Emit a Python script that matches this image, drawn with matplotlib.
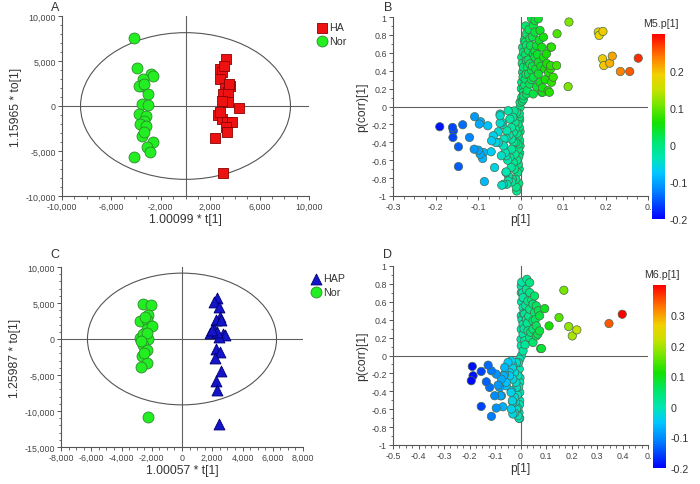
import numpy as np
import matplotlib
matplotlib.use("Agg")
import matplotlib as mpl
import matplotlib.pyplot as plt
from matplotlib.patches import Ellipse
from matplotlib.colors import LinearSegmentedColormap, Normalize
from matplotlib.ticker import MultipleLocator, FixedLocator, FuncFormatter

plt.rcParams['font.family'] = ['Liberation Sans', 'DejaVu Sans']
plt.rcParams['axes.unicode_minus'] = False

# ---------------- data ----------------
# panel A: OPLS-DA scores, t[1] vs to[1]
a_nor = [(-4131, 7547), (-3943, 4201), (-2785, 3570), (-2597, 3310), (-3404, 3012),
         (-3539, 2194), (-3727, 2194), (-3400, 2460), (-3000, 1340), (-3540, 225),
         (-3000, 110), (-3727, -890), (-3190, -1077), (-3350, -1634), (-3673, -2006),
         (-3190, -2192), (-3540, -3307), (-3350, -2935), (-2650, -3976), (-3135, -4608),
         (-2866, -5165), (-4131, -5649)]
a_ha = [(3245, 5168), (2787, 4127), (2922, 3755), (2787, 3012), (3594, 2268),
        (3191, 1971), (3003, 1340), (3460, 1525), (3406, 410), (4322, -260),
        (2652, -1003), (2922, -1450), (3325, -1820), (3728, -1746), (3245, -2378),
        (3325, -2935), (2383, -3604), (3056, -7396), (3100, 4400), (2950, 600),
        (2800, -700), (3500, 2400)]
a_ellipse = (8500, 8150)
a_xticks = [-10000, -6000, -2000, 2000, 6000, 10000]

# panel C
c_nor = [(-2607, 4907), (-2057, 4768), (-2277, 3287), (-2784, 2453), (-2344, 2592),
         (-2344, 1435), (-2013, 1805), (-2784, 138), (-2233, 46), (-2564, -880),
         (-2344, -1575), (-2674, -2362), (-2344, -3288), (-2740, -3890), (-2277, -10835),
         (-2450, 3000), (-2600, 700), (-2300, 900), (-2700, -300), (-2500, -2000)]
c_hap = [(2345, 5694), (2102, 5139), (2455, 4444), (2543, 3055), (2234, 2685),
         (2609, 2592), (2124, 1435), (2719, 740), (1838, 833), (2829, 509),
         (2455, 277), (2234, -1344), (2543, -1807), (2168, -2640), (2609, -4492),
         (2234, -5880), (2345, -7038), (2433, -11761), (2300, 1000), (2000, 1200)]
c_ellipse = (6250, 9150)
c_xticks = [-8000, -6000, -4000, -2000, 0, 2000, 4000, 6000, 8000]

# panel B: S-plot, p[1] vs p(corr)[1]
b_neg = [(-0.190, -0.226), (-0.160, -0.234), (-0.158, -0.271), (-0.159, -0.346),
         (-0.136, -0.204), (-0.146, -0.450), (-0.146, -0.671), (-0.108, -0.114),
         (-0.097, -0.196), (-0.094, -0.170), (-0.077, -0.215), (-0.120, -0.346),
         (-0.109, -0.477), (-0.099, -0.488), (-0.095, -0.533), (-0.089, -0.581),
         (-0.087, -0.514), (-0.085, -0.839), (-0.069, -0.506), (-0.061, -0.682),
         (-0.068, -0.383), (-0.064, -0.327), (-0.058, -0.402), (-0.052, -0.282),
         (-0.048, -0.103), (-0.044, -0.178), (-0.039, -0.364), (-0.034, -0.738),
         (-0.040, -0.869), (-0.029, -0.832), (-0.019, -0.813), (-0.009, -0.944),
         (-0.034, -0.551)]
b_low = [(-0.048, -0.084), (-0.048, -0.185), (-0.032, -0.271), (-0.021, -0.234),
         (-0.052, -0.402), (-0.040, -0.439), (-0.034, -0.731), (-0.044, -0.880),
         (-0.032, -0.869), (-0.021, -0.843), (-0.011, -0.813), (-0.007, -0.738),
         (-0.005, -0.645), (-0.017, -0.626), (-0.025, -0.570), (-0.013, -0.533),
         (-0.021, -0.477), (-0.005, -0.477), (-0.036, -0.514), (-0.011, -0.402),
         (-0.021, -0.364), (-0.034, -0.357), (-0.005, -0.327), (-0.017, -0.290),
         (-0.003, -0.234), (-0.013, -0.178), (-0.025, -0.140), (-0.003, -0.122),
         (-0.009, -0.065), (-0.029, -0.047), (-0.001, -0.009), (0.000, 0.047),
         (0.007, 0.084), (-0.004, -0.56), (-0.006, -0.42), (-0.008, -0.30),
         (-0.002, -0.38), (-0.003, -0.70), (-0.004, -0.86), (-0.006, -0.20),
         (-0.002, -0.15), (-0.001, -0.28), (-0.014, -0.70), (-0.016, -0.40),
         (-0.012, -0.25), (-0.018, -0.12), (-0.027, -0.32), (-0.030, -0.60),
         (-0.045, -0.55), (-0.042, -0.20), (-0.028, -0.78), (-0.010, -0.90),
         (-0.022, -0.68), (-0.008, -0.60), (-0.002, -0.52), (-0.001, -0.44),
         (-0.003, -0.08), (-0.015, -0.05)]
b_up = [(0.026, 0.981), (0.042, 0.981), (0.034, 0.962), (0.030, 0.906), (0.046, 0.850),
        (0.054, 0.775), (0.034, 0.831), (0.022, 0.757), (0.014, 0.682), (0.038, 0.682),
        (0.050, 0.663), (0.071, 0.663), (0.007, 0.607), (0.030, 0.588), (0.054, 0.551),
        (0.014, 0.514), (0.042, 0.495), (0.071, 0.458), (0.085, 0.458), (0.007, 0.439),
        (0.026, 0.402), (0.057, 0.420), (0.077, 0.327), (0.073, 0.271), (0.030, 0.327),
        (0.046, 0.271), (0.011, 0.308), (0.022, 0.252), (0.065, 0.177), (0.050, 0.159),
        (0.007, 0.215), (0.014, 0.140), (0.003, 0.103), (-0.001, 0.046), (0.007, 0.159),
        (0.003, 0.551), (0.011, 0.719), (0.019, 0.626), (0.005, 0.383), (0.003, 0.271),
        (0.030, 0.140), (0.042, 0.364), (0.061, 0.588), (0.022, 0.476), (0.034, 0.551),
        (0.019, 0.364), (0.014, 0.813), (0.004, 0.48), (0.006, 0.33), (0.002, 0.20),
        (0.005, 0.66), (0.009, 0.74), (0.012, 0.58), (0.016, 0.44), (0.010, 0.24),
        (0.013, 0.36), (0.018, 0.52), (0.024, 0.68), (0.028, 0.45), (0.036, 0.42),
        (0.040, 0.58), (0.044, 0.74), (0.048, 0.45), (0.058, 0.30), (0.062, 0.48),
        (0.038, 0.22), (0.026, 0.30), (0.020, 0.86), (0.028, 0.78), (0.016, 0.18),
        (0.008, 0.12), (0.012, 0.90), (0.004, 0.06), (0.066, 0.38), (0.052, 0.21),
        (0.034, 0.62)]
b_pos = [(0.114, 0.944), (0.086, 0.813), (0.073, 0.664), (0.071, 0.421), (0.112, 0.222),
         (0.052, 0.159), (0.068, 0.159), (0.183, 0.832), (0.194, 0.839), (0.185, 0.794),
         (0.193, 0.533), (0.216, 0.563), (0.196, 0.458), (0.210, 0.484), (0.235, 0.391),
         (0.257, 0.391), (0.277, 0.540)]

# panel D
d_neg = [(-0.189, -0.122), (-0.186, -0.226), (-0.193, -0.282), (-0.154, -0.178),
         (-0.127, -0.108), (-0.114, -0.171), (-0.095, -0.208), (-0.134, -0.294),
         (-0.121, -0.357), (-0.082, -0.357), (-0.101, -0.450), (-0.075, -0.450),
         (-0.154, -0.569), (-0.095, -0.587), (-0.069, -0.573), (-0.114, -0.680),
         (-0.066, -0.227), (-0.056, -0.338), (-0.088, -0.331), (-0.062, -0.134),
         (-0.075, -0.264), (-0.078, -0.450)]
d_low = [(-0.049, -0.078), (-0.036, -0.059), (-0.043, -0.189), (-0.062, -0.208),
         (-0.056, -0.301), (-0.030, -0.115), (-0.016, -0.078), (-0.003, -0.041),
         (0.003, -0.004), (-0.023, -0.189), (-0.010, -0.226), (-0.030, -0.264),
         (-0.003, -0.301), (-0.016, -0.357), (-0.036, -0.394), (-0.003, -0.412),
         (-0.023, -0.468), (-0.003, -0.505), (-0.032, -0.505), (-0.036, -0.598),
         (-0.016, -0.598), (-0.030, -0.654), (-0.010, -0.673), (-0.003, -0.702),
         (-0.043, -0.227), (-0.032, -0.134), (-0.037, -0.412), (-0.030, -0.524),
         (-0.023, -0.643), (-0.006, -0.702), (-0.010, -0.591), (-0.005, -0.15),
         (-0.007, -0.35), (-0.004, -0.55), (-0.012, -0.44), (-0.002, -0.25),
         (-0.008, -0.08), (-0.018, -0.30), (-0.020, -0.52), (-0.006, -0.64)]
d_up = [(0.025, 0.851), (0.036, 0.814), (0.003, 0.777), (0.023, 0.740), (0.003, 0.703),
        (0.036, 0.703), (0.055, 0.665), (0.010, 0.647), (0.029, 0.610), (0.049, 0.573),
        (0.062, 0.554), (0.010, 0.535), (0.036, 0.517), (0.016, 0.461), (0.055, 0.480),
        (0.075, 0.443), (0.023, 0.405), (0.049, 0.387), (0.010, 0.350), (0.062, 0.331),
        (0.049, 0.294), (0.075, 0.275), (0.029, 0.275), (0.010, 0.238), (0.036, 0.201),
        (0.062, 0.219), (0.016, 0.164), (0.049, 0.145), (0.003, 0.108), (0.010, 0.052),
        (0.003, 0.294), (0.003, 0.443), (0.004, 0.60), (0.006, 0.40), (0.002, 0.18),
        (0.008, 0.70), (0.012, 0.47), (0.014, 0.30), (0.020, 0.56), (0.026, 0.36),
        (0.032, 0.44), (0.040, 0.26), (0.044, 0.62), (0.005, 0.82), (0.018, 0.12),
        (0.070, 0.50), (0.068, 0.24), (0.058, 0.40)]
d_pos = [(0.399, 0.461), (0.347, 0.357), (0.170, 0.729), (0.151, 0.424), (0.189, 0.323),
         (0.221, 0.286), (0.203, 0.219), (0.112, 0.331), (0.095, 0.524), (0.082, 0.078),
         (0.079, 0.078)]

cb_b_ticks = [0.2, 0.1, 0, -0.1, -0.2]
cb_d_ticks = [0.3, 0.2, 0.1, 0, -0.1, -0.2]

# ---------------- style ----------------
GREY = '#444444'
cmap = LinearSegmentedColormap.from_list('simca', [
    (0.00, '#0000ff'), (0.15, '#0082ff'), (0.25, '#00c8ff'), (0.33, '#00e6b4'),
    (0.42, '#00e66e'), (0.52, '#14e100'), (0.62, '#78e600'), (0.70, '#c8e100'),
    (0.78, '#f0d200'), (0.87, '#ff8200'), (1.00, '#ff0000')])


def base_axes(ax):
    for s in ('top', 'right'):
        ax.spines[s].set_visible(False)
    for s in ('left', 'bottom'):
        ax.spines[s].set_color('#555555')
        ax.spines[s].set_linewidth(0.8)
    ax.tick_params(which='major', direction='out', length=3, width=0.7,
                   colors='#555555', labelcolor=GREY, labelsize=6.4, pad=1.5)
    ax.tick_params(which='minor', direction='out', length=1.8, width=0.6, colors='#555555')
    ax.axhline(0, color='#606060', lw=0.8, zorder=1)
    ax.axvline(0, color='#606060', lw=0.8, zorder=1)


def score_plot(ax, groups, radii, xlim, ylim, xticks, xminor, ystep, yminor, xlabel, ylabel):
    base_axes(ax)
    ax.add_patch(Ellipse((0, 0), 2 * radii[0], 2 * radii[1], fill=False,
                         ec='#555555', lw=0.8, zorder=1))
    for pts, marker, fc, ec, size, label in groups:
        arr = np.array(pts, dtype=float)
        ax.scatter(arr[:, 0], arr[:, 1], marker=marker, s=size, c=fc, edgecolors=ec,
                   linewidths=0.6, zorder=3, label=label)
    ax.set_xlim(*xlim)
    ax.set_ylim(*ylim)
    ax.xaxis.set_major_locator(FixedLocator(xticks))
    ax.xaxis.set_minor_locator(MultipleLocator(xminor))
    ax.yaxis.set_major_locator(MultipleLocator(ystep))
    ax.yaxis.set_minor_locator(MultipleLocator(yminor))
    fmt = FuncFormatter(lambda v, _: f"{v:,.0f}")
    ax.xaxis.set_major_formatter(fmt)
    ax.yaxis.set_major_formatter(fmt)
    ax.set_xlabel(xlabel, fontsize=8.7, color='#333333', labelpad=1)
    ax.set_ylabel(ylabel, fontsize=8.7, color='#333333', labelpad=2)
    ax.legend(loc='upper left', bbox_to_anchor=(1.0, 1.0), frameon=False, fontsize=7.7,
              handletextpad=0.1, borderaxespad=0.2, labelspacing=0.3, handlelength=1.2,
              labelcolor='#333333')


def loading_plot(ax, cax, sets, xlim, vmin, vmax, cticks, ctitle):
    base_axes(ax)
    pts = np.array([p for s in sets for p in s], dtype=float)
    norm = Normalize(vmin=vmin, vmax=vmax)
    order = np.argsort(np.abs(pts[:, 0]))
    ax.scatter(pts[order, 0], pts[order, 1], c=pts[order, 0], cmap=cmap, norm=norm,
               s=36, edgecolors='#4a6a50', linewidths=0.5, zorder=3)
    ax.set_xlim(*xlim)
    ax.set_ylim(-1, 1)
    ax.xaxis.set_major_locator(MultipleLocator(0.1))
    ax.xaxis.set_minor_locator(MultipleLocator(0.025))
    ax.yaxis.set_major_locator(MultipleLocator(0.2))
    ax.yaxis.set_minor_locator(MultipleLocator(0.1))
    right = xlim[1]

    def xfmt(v, _):
        if abs(v - right) < 1e-9:
            return "0."
        return f"{round(v, 2):g}"
    ax.xaxis.set_major_formatter(FuncFormatter(xfmt))
    ax.yaxis.set_major_formatter(FuncFormatter(lambda v, _: f"{round(v, 2):g}"))
    ax.set_xlabel("p[1]", fontsize=8.7, color='#333333', labelpad=1)
    ax.set_ylabel("p(corr)[1]", fontsize=8.7, color='#333333', labelpad=2)

    cb = mpl.colorbar.ColorbarBase(cax, cmap=cmap, norm=norm, ticks=cticks)
    cb.outline.set_visible(False)
    cax.tick_params(length=0, labelsize=7.7, labelcolor='#333333', pad=3)
    cb.ax.yaxis.set_major_formatter(FuncFormatter(lambda v, _: f"{round(v, 2):g}"))
    bb = cax.get_position()
    fig.text(bb.x0 + bb.width / 2 + 0.004, bb.y1 + 0.012, ctitle, ha='center', va='bottom',
             fontsize=7.7, color='#333333')


W, H = 700, 485
fig = plt.figure(figsize=(W / 100, H / 100), dpi=100)


def px(l, t, r, b):
    return [l / W, 1 - b / H, (r - l) / W, (b - t) / H]


axA = fig.add_axes(px(62, 17, 309, 197))
axB = fig.add_axes(px(393, 18, 648, 197))
caxB = fig.add_axes(px(652, 35, 665, 220))
axC = fig.add_axes(px(61, 268, 303, 448))
axD = fig.add_axes(px(393, 267, 648, 446))
caxD = fig.add_axes(px(653, 286, 666, 469))

score_plot(axA, [(a_ha, 's', '#ee1111', '#8b0000', 58, 'HA'),
                 (a_nor, 'o', '#22ee22', '#2e8b2e', 62, 'Nor')],
           a_ellipse, (-10000, 10000), (-10000, 10000), a_xticks, 1000, 5000, 1000,
           "1.00099 * t[1]", "1.15965 * to[1]")
score_plot(axC, [(c_hap, '^', '#1414c8', '#00006e', 62, 'HAP'),
                 (c_nor, 'o', '#22ee22', '#2e8b2e', 62, 'Nor')],
           c_ellipse, (-8000, 8000), (-15000, 10000), c_xticks, 500, 5000, 1000,
           "1.00057 * t[1]", "1.25987 * to[1]")
loading_plot(axB, caxB, [b_neg, b_low, b_up, b_pos], (-0.3, 0.3), -0.2, 0.3,
             cb_b_ticks, "M5.p[1]")
loading_plot(axD, caxD, [d_neg, d_low, d_up, d_pos], (-0.5, 0.5), -0.2, 0.4,
             cb_d_ticks, "M6.p[1]")

for letter, x, y in [("A", 55, 8), ("B", 388, 8), ("C", 55, 255), ("D", 388, 255)]:
    fig.text(x / W, 1 - y / H, letter, fontsize=9, color='#333333', ha='center', va='center')

fig.savefig("out.png", dpi=100)
